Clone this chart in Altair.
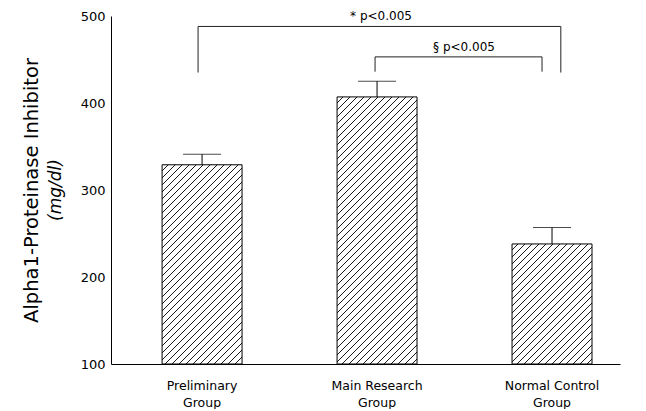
import math
import altair as alt
import pandas as pd

# ---------------- data ----------------
groups = ["Preliminary Group", "Main Research Group", "Normal Control Group"]
means = [329, 407, 238]
upper = [341, 425, 257]

y_ticks = [100, 200, 300, 400, 500]

bracket_left = ["Preliminary Group", "Main Research Group"]
bracket_right = ["Normal Control Group", "Normal Control Group"]
bracket_top = [488, 453]
bracket_bottom = [435, 436]
bracket_text = ["* p<0.005", "§ p<0.005"]
bracket_text_y = [500, 464]
bracket_text_anchor = ["Main Research Group", "Main Research Group"]

y_title = "Alpha1-Proteinase Inhibitor"
unit_label = ["(mg/dl)"]

# ---------------- layout / style ----------------
W, H = 509, 348
Y0, Y1 = 100, 500
P_INNER, P_OUTER, ALIGN = 0.543, 0.226, 0.646
FONT = "DejaVu Sans"
INK = "black"
# band positions (left leg, right leg, label) and label dx for each bracket
bracket_bands = [(0.45, 0.61, 0.55, 0), (0.475, 0.375, 1.0, 47)]

step = W / (len(groups) - P_INNER + 2 * P_OUTER)
bw = step * (1 - P_INNER)


def hatch(value, period=7.0, frac=0.2, ink="#1a1a1a"):
    """Diagonal (///) hatching as a hard-stop linear gradient in bbox units."""
    h = (value - Y0) / (Y1 - Y0) * H
    w = bw
    s = (w + h) / (w * w + h * h)
    n = int(math.ceil((w + h) / period))
    dt = period / (w + h)
    stops = []
    for i in range(n):
        t0 = i * dt
        t1 = min(t0 + dt * (1 - frac), 1.0)
        t2 = min(t0 + dt, 1.0)
        stops += [
            {"offset": round(t0, 5), "color": "white"},
            {"offset": round(t1, 5), "color": "white"},
            {"offset": round(t1, 5), "color": ink},
            {"offset": round(t2, 5), "color": ink},
        ]
    return {"gradient": "linear", "x1": 0, "y1": 0,
            "x2": round(w * s, 5), "y2": round(h * s, 5), "stops": stops}


xs = alt.Scale(domain=groups, paddingInner=P_INNER, paddingOuter=P_OUTER, align=ALIGN)
ys = alt.Scale(domain=[Y0, Y1], nice=False, zero=False)

bars_df = pd.DataFrame({"group": groups, "mean": means, "upper": upper})

x_axis = alt.Axis(
    labelExpr="[replace(datum.label, ' Group', ''), 'Group']",
    labelAngle=0, ticks=False, tickSize=0, labelPadding=15,
    labelFont=FONT, labelFontSize=12.5, labelLineHeight=17, labelColor=INK,
    domainColor=INK, domainWidth=1, grid=False, title=None,
)
y_axis = alt.Axis(
    values=y_ticks, ticks=False, tickSize=0, labelPadding=6,
    labelFont=FONT, labelFontSize=13, labelColor=INK,
    domainColor=INK, domainWidth=1, grid=False,
    title=y_title, titleFont=FONT, titleFontSize=19.5, titleFontWeight="normal",
    titleColor=INK, titlePadding=39,
)

fill = (
    alt.when(alt.datum.group == groups[0]).then(alt.value(hatch(means[0])))
    .when(alt.datum.group == groups[1]).then(alt.value(hatch(means[1])))
    .otherwise(alt.value(hatch(means[2])))
)

bars = alt.Chart(bars_df).mark_bar(stroke=INK, strokeWidth=1).encode(
    x=alt.X("group:N", scale=xs, axis=x_axis),
    y=alt.Y("mean:Q", scale=ys, axis=y_axis),
    y2=alt.datum(Y0),
    fill=fill,
)

err = alt.Chart(bars_df).mark_rule(color=INK, strokeWidth=1).encode(
    x=alt.X("group:N", scale=xs, axis=x_axis),
    y=alt.Y("mean:Q", scale=ys, axis=y_axis),
    y2="upper:Q",
)
caps = alt.Chart(bars_df).mark_tick(color=INK, size=38, thickness=1).encode(
    x=alt.X("group:N", scale=xs, axis=x_axis),
    y=alt.Y("upper:Q", scale=ys, axis=y_axis),
)

layers = [bars, err, caps]

for i in range(len(bracket_left)):
    bdf = pd.DataFrame({
        "left": [bracket_left[i]], "right": [bracket_right[i]],
        "top": [bracket_top[i]], "bottom": [bracket_bottom[i]],
        "label": [bracket_text[i]], "ly": [bracket_text_y[i]],
        "anchor": [bracket_text_anchor[i]],
    })
    bl, br, bt, tdx = bracket_bands[i]
    base = alt.Chart(bdf)
    horiz = base.mark_rule(color="#222", strokeWidth=1).encode(
        x=alt.X("left:N", scale=xs, axis=x_axis, bandPosition=bl),
        x2=alt.X2("right:N", bandPosition=br),
        y=alt.Y("top:Q", scale=ys, axis=y_axis),
    )
    leg_l = base.mark_rule(color="#222", strokeWidth=1).encode(
        x=alt.X("left:N", scale=xs, axis=x_axis, bandPosition=bl),
        y=alt.Y("top:Q", scale=ys, axis=y_axis),
        y2="bottom:Q",
    )
    leg_r = base.mark_rule(color="#222", strokeWidth=1).encode(
        x=alt.X("right:N", scale=xs, axis=x_axis, bandPosition=br),
        y=alt.Y("top:Q", scale=ys, axis=y_axis),
        y2="bottom:Q",
    )
    txt = base.mark_text(font=FONT, fontSize=12, color=INK, baseline="middle",
                         align="center", dx=tdx).encode(
        x=alt.X("anchor:N", scale=xs, axis=x_axis, bandPosition=bt),
        y=alt.Y("ly:Q", scale=ys, axis=y_axis),
        text="label:N",
    )
    layers += [horiz, leg_l, leg_r, txt]

unit = alt.Chart(pd.DataFrame({"t": unit_label})).mark_text(
    font=FONT, fontSize=17, fontStyle="italic", color=INK, angle=270,
    baseline="middle", align="center",
).encode(x=alt.value(-55), y=alt.value(H / 2), text="t:N")
layers.append(unit)

chart = alt.layer(*layers).properties(
    width=W, height=H,
    padding={"left": 13, "top": 2, "right": 5, "bottom": 0},
    background="white",
).configure_view(strokeWidth=0)

chart.save("out.html", embed_options={"renderer": "svg", "actions": False})
